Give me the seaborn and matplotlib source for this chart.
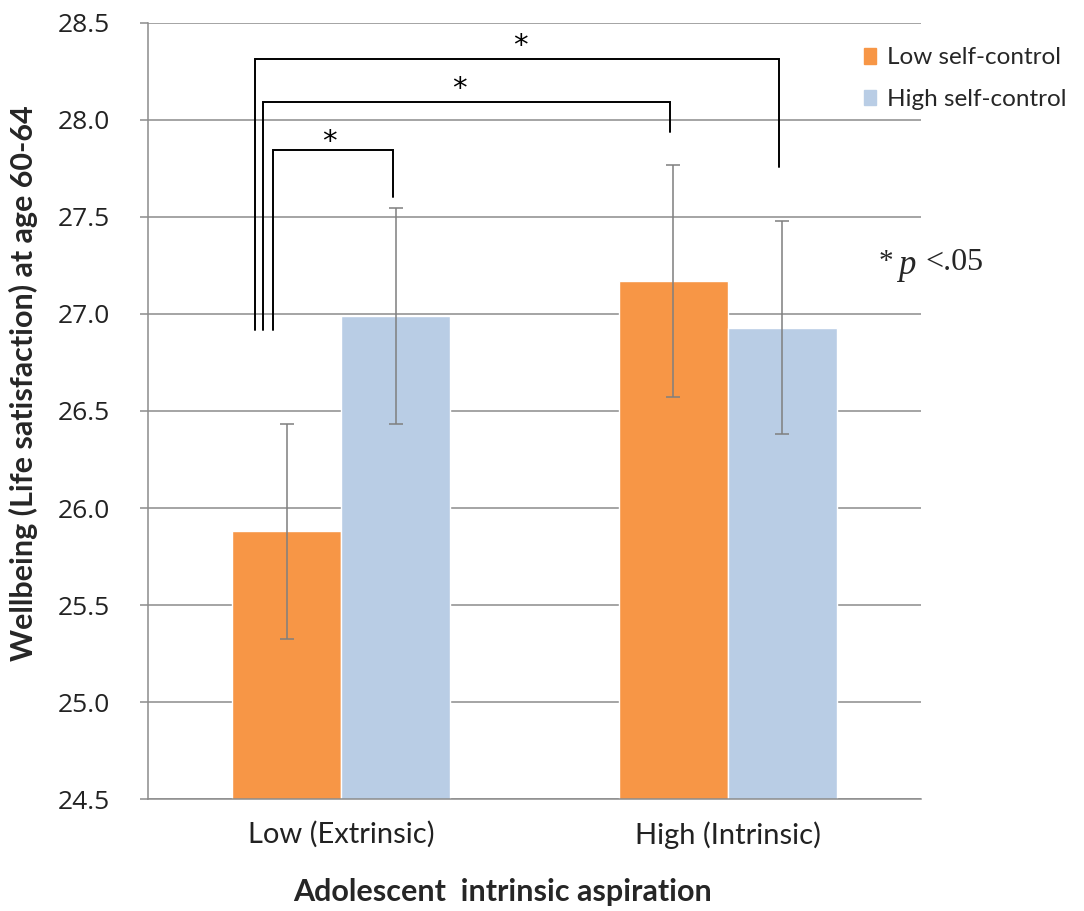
import pandas as pd
import numpy as np
import matplotlib
matplotlib.use("Agg")
import matplotlib.pyplot as plt
import seaborn as sns

sns.set_style("white")

# chart data
aspiration = ["Low (Extrinsic)", "High (Intrinsic)"]
self_control = ["Low self-control", "High self-control"]
low_sc_mean = [25.88, 27.17]
high_sc_mean = [26.99, 26.93]
low_sc_err = [0.555, 0.60]
high_sc_err = [0.555, 0.55]
palette = ["#F79646", "#B9CDE5"]

data = pd.DataFrame({
    "aspiration": aspiration * 2,
    "group": [self_control[0]] * 2 + [self_control[1]] * 2,
    "wellbeing": low_sc_mean + high_sc_mean,
    "err": low_sc_err + high_sc_err,
})

fig = plt.figure(figsize=(10.84, 9.11), dpi=100)
ax = fig.add_axes([0.1365, 0.1229, 0.7132, 0.8519])

sns.barplot(data=data, x="aspiration", y="wellbeing", hue="group",
            order=aspiration, hue_order=self_control, palette=palette,
            width=0.565, gap=0, errorbar=None, saturation=1, ax=ax, zorder=2)

# error bars on bar centres
centers = {}
for cont, grp in zip(ax.containers, self_control):
    sub = data[data["group"] == grp].set_index("aspiration").loc[aspiration]
    for bar, (asp, row) in zip(cont, sub.iterrows()):
        cx = bar.get_x() + bar.get_width() / 2
        centers[(asp, grp)] = cx
        ax.errorbar(cx, row["wellbeing"], yerr=row["err"], color="#7F7F7F",
                    elinewidth=1.1, capsize=5, capthick=1.1, zorder=3)

ax.set_ylim(24.5, 28.5)
ax.set_xlim(-0.5, 1.5)
yt = np.arange(24.5, 28.51, 0.5)
ax.set_yticks(yt)
ax.set_yticklabels([f"{v:.1f}" for v in yt], fontsize=19,
                   color="#222222", family="Open Sans")
ax.yaxis.grid(True, color="#8C8C8C", linewidth=1.1)
ax.set_axisbelow(True)

ax.set_xticks([0, 1])
ax.set_xticklabels(aspiration, fontsize=21, family="Lato", color="#222222")
ax.set_xticks([-0.5, 0.5, 1.5], minor=True)
ax.tick_params(axis="x", which="major", length=0, pad=16)
ax.tick_params(axis="x", which="minor", length=8, color="#8C8C8C", width=1.1)
ax.tick_params(axis="y", length=6, color="#8C8C8C", width=1.1, pad=21, left=True)

for side in ["top", "right"]:
    ax.spines[side].set_visible(False)
for side in ["left", "bottom"]:
    ax.spines[side].set_color("#8C8C8C")
    ax.spines[side].set_linewidth(1.1)

ax.set_ylabel("Wellbeing (Life satisfaction) at age 60-64", fontsize=22,
              family="Lato", fontweight="bold")
ax.yaxis.set_label_coords(-0.142, 0.536)
ax.set_xlabel("Adolescent  intrinsic aspiration", fontsize=22,
              family="Lato", fontweight="bold")
ax.xaxis.set_label_coords(0.459, -0.102)

# significance brackets: (left x, target bar, top, right end, star x, star y)
low_o = centers[(aspiration[0], self_control[0])]
brackets = [
    (low_o - 0.036, (aspiration[0], self_control[1]), 27.845, 27.603, -0.03, 27.885),
    (low_o - 0.062, (aspiration[1], self_control[0]), 28.093, 27.938, 0.307, 28.16),
    (low_o - 0.083, (aspiration[1], self_control[1]), 28.314, 27.758, 0.464, 28.38),
]
for lx, target, top, rend, sx, sy in brackets:
    rx = centers[target] - 0.008
    ax.plot([lx, lx, rx, rx], [26.918, top, top, rend], color="black",
            linewidth=1.4, solid_joinstyle="miter", zorder=4, clip_on=False)
    ax.text(sx, sy, "*", fontsize=21, ha="center", va="center",
            color="black", zorder=4, family="DejaVu Sans")

ax.legend_.remove()
handles = [plt.Rectangle((0, 0), 1, 1, color=c) for c in palette]
fig.legend(handles, self_control, loc="upper left", bbox_to_anchor=(0.797, 0.948),
           frameon=False, prop={"family": "Lato", "size": 17.5},
           handlelength=0.5, handleheight=0.6, handletextpad=0.45,
           labelspacing=0.85, borderaxespad=0, borderpad=0)

fig.text(879 / 1084, 1 - 262 / 911, "*", fontsize=21, family="Liberation Serif",
         ha="left", va="center")
fig.text(898 / 1084, 1 - 265 / 911, "p", fontsize=25, family="Liberation Serif",
         style="italic", ha="left", va="center")
fig.text(925 / 1084, 1 - 262 / 911, "<.05", fontsize=23, family="Liberation Serif",
         ha="left", va="center")

fig.savefig("out.png", dpi=100)
